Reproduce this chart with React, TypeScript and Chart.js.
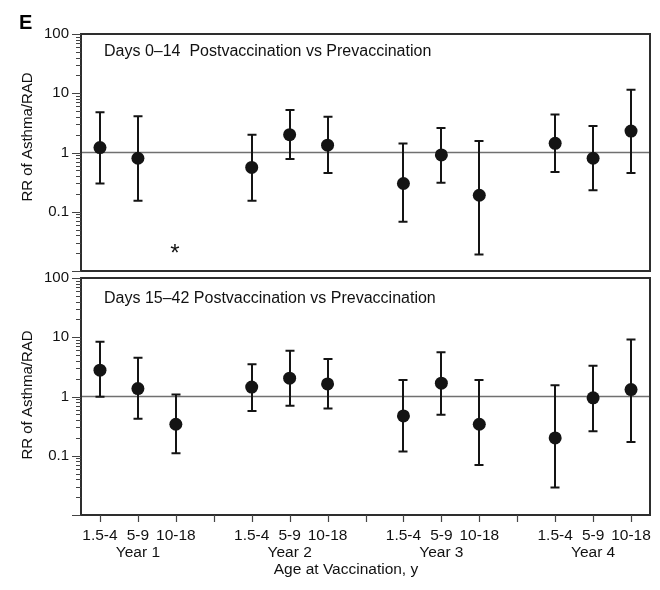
import React, { useEffect, useRef } from 'react';
import { Chart, registerables } from 'chart.js';

Chart.register(...registerables);

// ---------------- data ----------------
const AGE_GROUPS = ['1.5-4', '5-9', '10-18'];
const YEARS = ['Year 1', 'Year 2', 'Year 3', 'Year 4'];
const Y_TICK_LABELS = [0.1, 1, 10, 100];
const Y_MIN = 0.01;
const Y_MAX = 100;

const PANEL_LETTER = 'E';
const Y_TITLE = 'RR of Asthma/RAD';
const X_TITLE = 'Age at Vaccination, y';
const EARLY_TITLE = 'Days 0\u201314  Postvaccination vs Prevaccination';
const LATE_TITLE = 'Days 15\u201342 Postvaccination vs Prevaccination';

// Days 0-14 (order: Year1 1.5-4, 5-9, 10-18, Year2 ..., Year4 10-18)
const EARLY_RR: (number | null)[] = [1.21, 0.8, null, 0.56, 2.0, 1.33, 0.3, 0.91, 0.19, 1.43, 0.8, 2.3];
const EARLY_LO: (number | null)[] = [0.3, 0.153, null, 0.153, 0.78, 0.45, 0.068, 0.31, 0.019, 0.47, 0.23, 0.45];
const EARLY_HI: (number | null)[] = [4.8, 4.1, null, 2.0, 5.2, 4.0, 1.42, 2.6, 1.57, 4.4, 2.8, 11.5];
// estimate not available (marked with *)
const EARLY_STAR_RR = 0.028;

// Days 15-42
const LATE_RR: (number | null)[] = [2.78, 1.36, 0.34, 1.44, 2.04, 1.63, 0.47, 1.68, 0.34, 0.2, 0.95, 1.31];
const LATE_LO: (number | null)[] = [0.99, 0.42, 0.11, 0.57, 0.7, 0.63, 0.118, 0.49, 0.07, 0.029, 0.26, 0.17];
const LATE_HI: (number | null)[] = [8.4, 4.5, 1.08, 3.5, 5.9, 4.3, 1.9, 5.6, 1.9, 1.55, 3.3, 9.2];

// ---------------- helpers ----------------
const FONT = "'Liberation Sans', Arial, Helvetica, sans-serif";
const INK = '#141414';
const TEXT = '#111';
const GROUP = AGE_GROUPS.length + 1; // slots per year incl. gap
const slot = (i: number) => i + Math.floor(i / AGE_GROUPS.length);
const LAST_SLOT = YEARS.length * GROUP - 2;
const X_MIN = -0.5;
const X_MAX = LAST_SLOT + 0.5;

const logTicks = () => {
  const out: { value: number }[] = [];
  for (let e = Math.log10(Y_MIN); e < Math.log10(Y_MAX); e++) {
    for (let m = 1; m <= 9; m++) out.push({ value: parseFloat((m * Math.pow(10, e)).toPrecision(3)) });
  }
  out.push({ value: Y_MAX });
  return out;
};

const xTicks = () => {
  const out: { value: number }[] = [];
  for (let v = 0; v <= LAST_SLOT; v++) out.push({ value: v });
  return out;
};

const points = (rr: (number | null)[]) =>
  rr.map((v, i) => (v == null ? null : { x: slot(i), y: v })).filter(Boolean) as { x: number; y: number }[];

const yScale = () => ({
  type: 'logarithmic' as const,
  min: Y_MIN,
  max: Y_MAX,
  afterBuildTicks: (s: any) => {
    s.ticks = logTicks();
  },
  afterFit: (s: any) => {
    s.width = 81;
  },
  grid: { display: false },
  border: { display: false },
  ticks: {
    autoSkip: false,
    padding: 4,
    color: TEXT,
    font: { family: FONT, size: 15 },
    callback: (v: any) => (Y_TICK_LABELS.includes(Number(v)) ? String(Number(v)) : ''),
  },
});

type PanelCfg = {
  title: string;
  lo: (number | null)[];
  hi: (number | null)[];
  titleY: number;
  yTitleY: number;
  bottomAxis: boolean;
  letter: boolean;
  starIndex: number | null;
};

const makePanelPlugin = (cfg: PanelCfg) => ({
  id: 'panelDecor',
  beforeDatasetsDraw(chart: any) {
    const { ctx, chartArea: a, scales } = chart;
    const x = scales.x;
    const y = scales.y;
    ctx.save();
    // reference line at RR = 1
    const p1 = y.getPixelForValue(1);
    ctx.strokeStyle = '#707070';
    ctx.lineWidth = 1.3;
    ctx.beginPath();
    ctx.moveTo(a.left, p1);
    ctx.lineTo(a.right, p1);
    ctx.stroke();
    // error bars
    ctx.strokeStyle = INK;
    ctx.lineWidth = 2;
    cfg.lo.forEach((lo, i) => {
      const hi = cfg.hi[i];
      if (lo == null || hi == null) return;
      const px = Math.round(x.getPixelForValue(slot(i)));
      const pl = y.getPixelForValue(lo);
      const ph = y.getPixelForValue(hi);
      ctx.beginPath();
      ctx.moveTo(px, pl);
      ctx.lineTo(px, ph);
      ctx.moveTo(px - 4.5, pl);
      ctx.lineTo(px + 4.5, pl);
      ctx.moveTo(px - 4.5, ph);
      ctx.lineTo(px + 4.5, ph);
      ctx.stroke();
    });
    ctx.restore();
  },
  afterDraw(chart: any) {
    const { ctx, chartArea: a, scales } = chart;
    const x = scales.x;
    const y = scales.y;
    ctx.save();
    // frame
    ctx.strokeStyle = '#2e2e2e';
    ctx.lineWidth = 2;
    ctx.strokeRect(a.left, a.top, a.right - a.left, a.bottom - a.top);
    // y tick marks
    ctx.lineWidth = 1;
    ctx.strokeStyle = '#444';
    y.ticks.forEach((t: any) => {
      const major = Y_TICK_LABELS.includes(t.value) || t.value === Y_MIN;
      const p = Math.round(y.getPixelForValue(t.value)) + 0.5;
      const len = major ? 9 : 5;
      ctx.beginPath();
      ctx.moveTo(a.left - len, p);
      ctx.lineTo(a.left, p);
      ctx.stroke();
    });
    // x tick marks
    if (cfg.bottomAxis) {
      ctx.lineWidth = 1.2;
      x.ticks.forEach((t: any) => {
        const p = Math.round(x.getPixelForValue(t.value)) + 0.5;
        ctx.beginPath();
        ctx.moveTo(p, a.bottom);
        ctx.lineTo(p, a.bottom + 7);
        ctx.stroke();
      });
    }
    // panel title
    ctx.fillStyle = TEXT;
    ctx.font = `16px ${FONT}`;
    ctx.textAlign = 'left';
    ctx.textBaseline = 'middle';
    ctx.fillText(cfg.title, 104, cfg.titleY);
    // y axis title
    ctx.save();
    ctx.translate(28, cfg.yTitleY);
    ctx.rotate(-Math.PI / 2);
    ctx.textAlign = 'center';
    ctx.textBaseline = 'middle';
    ctx.font = `15px ${FONT}`;
    ctx.fillText(Y_TITLE, 0, 0);
    ctx.restore();
    // x axis title
    if (cfg.bottomAxis) {
      ctx.textAlign = 'center';
      ctx.textBaseline = 'middle';
      ctx.font = `15.5px ${FONT}`;
      ctx.fillText(X_TITLE, 346, a.bottom + 55);
    }
    // panel letter
    if (cfg.letter) {
      ctx.font = `bold 20px ${FONT}`;
      ctx.textAlign = 'left';
      ctx.textBaseline = 'alphabetic';
      ctx.fillStyle = '#000';
      ctx.fillText(PANEL_LETTER, 19, 29);
    }
    // asterisk for non-estimable group
    if (cfg.starIndex != null) {
      const px = x.getPixelForValue(slot(cfg.starIndex));
      const py = y.getPixelForValue(EARLY_STAR_RR);
      ctx.font = `24px ${FONT}`;
      ctx.textAlign = 'center';
      ctx.textBaseline = 'alphabetic';
      ctx.fillStyle = '#111';
      ctx.fillText('*', px - 1, py + 16);
    }
    ctx.restore();
  },
});

const dataset = (rr: (number | null)[]) => ({
  data: points(rr),
  pointRadius: 6.5,
  pointHoverRadius: 6.5,
  backgroundColor: INK,
  borderWidth: 0,
});

export default function App() {
  const topRef = useRef<HTMLCanvasElement | null>(null);
  const botRef = useRef<HTMLCanvasElement | null>(null);

  useEffect(() => {
    Chart.defaults.font.family = FONT;
    const starIndex = EARLY_RR.findIndex((v) => v == null);
    const top = new Chart(topRef.current as HTMLCanvasElement, {
      type: 'scatter',
      data: { datasets: [dataset(EARLY_RR) as any] },
      options: {
        responsive: false,
        animation: false,
        layout: { padding: { top: 34, right: 10, bottom: 14, left: 0 } },
        plugins: { legend: { display: false }, tooltip: { enabled: false } },
        scales: {
          x: { type: 'linear', display: false, min: X_MIN, max: X_MAX },
          y: yScale() as any,
        },
      },
      plugins: [
        makePanelPlugin({
          title: EARLY_TITLE,
          lo: EARLY_LO,
          hi: EARLY_HI,
          titleY: 52,
          yTitleY: 137,
          bottomAxis: false,
          letter: true,
          starIndex: starIndex >= 0 ? starIndex : null,
        }) as any,
      ],
    });

    const bottom = new Chart(botRef.current as HTMLCanvasElement, {
      type: 'scatter',
      data: { datasets: [dataset(LATE_RR) as any] },
      options: {
        responsive: false,
        animation: false,
        layout: { padding: { top: 20, right: 10, bottom: 0, left: 0 } },
        plugins: { legend: { display: false }, tooltip: { enabled: false } },
        scales: {
          x: {
            type: 'linear',
            min: X_MIN,
            max: X_MAX,
            afterBuildTicks: (s: any) => {
              s.ticks = xTicks();
            },
            afterFit: (s: any) => {
              s.height = 75;
            },
            grid: { display: false },
            border: { display: false },
            ticks: {
              autoSkip: false,
              maxRotation: 0,
              padding: 4,
              color: TEXT,
              font: { family: FONT, size: 15.5, lineHeight: 1.1 },
              callback: (v: any) => {
                const n = Number(v);
                const k = n % GROUP;
                if (k >= AGE_GROUPS.length) return '';
                const yr = Math.floor(n / GROUP);
                return k === Math.floor(AGE_GROUPS.length / 2) ? [AGE_GROUPS[k], YEARS[yr]] : AGE_GROUPS[k];
              },
            },
          },
          y: yScale() as any,
        },
      },
      plugins: [
        makePanelPlugin({
          title: LATE_TITLE,
          lo: LATE_LO,
          hi: LATE_HI,
          titleY: 41,
          yTitleY: 137,
          bottomAxis: true,
          letter: false,
          starIndex: null,
        }) as any,
      ],
    });

    return () => {
      top.destroy();
      bottom.destroy();
    };
  }, []);

  return (
    <div style={{ position: 'absolute', left: 0, top: 0, width: 660, height: 590, background: '#fff' }}>
      <canvas
        ref={topRef}
        width={660}
        height={285}
        style={{ position: 'absolute', left: 0, top: 0, width: 660, height: 285 }}
      />
      <canvas
        ref={botRef}
        width={660}
        height={332}
        style={{ position: 'absolute', left: 0, top: 258, width: 660, height: 332 }}
      />
    </div>
  );
}
